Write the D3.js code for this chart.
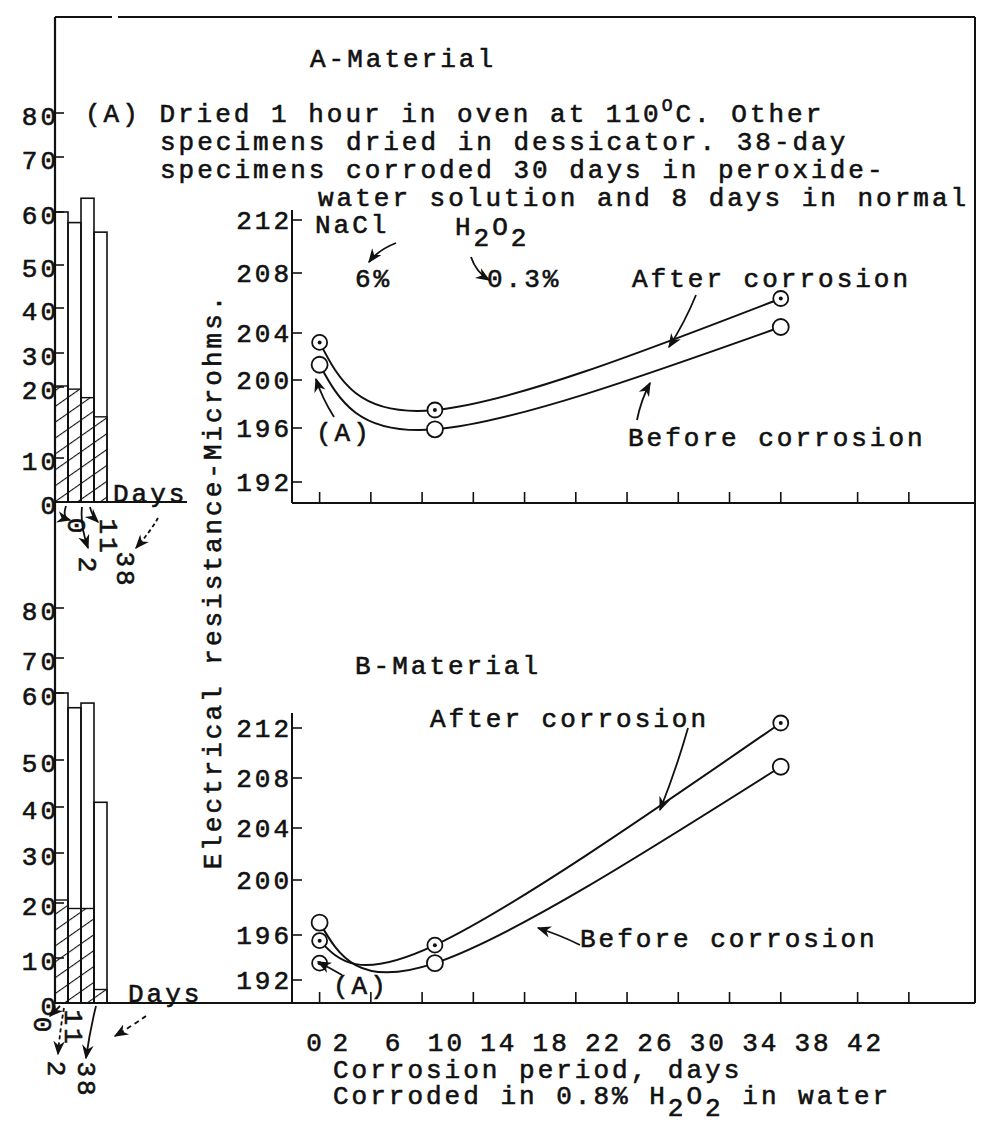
<!DOCTYPE html>
<html><head><meta charset="utf-8">
<script src="https://cdn.jsdelivr.net/npm/d3@7"></script>
<style>
body{margin:0;background:#fff;}
text{font-family:"Liberation Mono","DejaVu Sans Mono",monospace;fill:#111;stroke:#111;stroke-width:0.6px;letter-spacing:3px;}
</style></head><body>
<svg id="chart" width="993" height="1125"></svg>
<script>
// ---- data -------------------------------------------------------------
// specimen groups (days of corrosion) in the side bar charts
const barDays = ["0", "2", "11", "38"];
const barTicks = [0, 10, 20, 30, 40, 50, 60, 70, 80];
const barTotalA = [60, 58, 62.5, 56.2];
const barHatchA = [20.3, 19.7, 18.5, 15.8];
const barTotalB = [60, 57.8, 58.5, 41];
const barHatchB = [20.6, 19, 19, 3];

// electrical resistance (microhms) against corrosion period (days)
const days = [2, 11, 38];
const aAfter = [203.2, 197.5, 206.3];
const aBefore = [201.3, 195.9, 204.4];
const bAfter = [195.5, 195.1, 212.4];
const bBefore = [196.9, 193.5, 208.9];
const bOvenDried = [193.5];
const resTicks = [192, 196, 200, 204, 208, 212];
const dayTicks = [2, 6, 10, 14, 18, 22, 26, 30, 34, 38, 44, 48];
const dayLabels = [0, 2, 6, 10, 14, 18, 22, 26, 30, 34, 38, 42];

const noteLines = [
  "specimens dried in dessicator. 38-day",
  "specimens corroded 30 days in peroxide-",
  "water solution and 8 days in normal"
];

// ---- layout -----------------------------------------------------------
const ink = "#111";
const FS = 26;
const svg = d3.select("#chart");
const defs = svg.append("defs");

defs.append("marker").attr("id", "arr").attr("viewBox", "0 0 10 10")
  .attr("refX", 9).attr("refY", 5).attr("markerWidth", 8).attr("markerHeight", 8)
  .attr("orient", "auto")
  .append("path").attr("d", "M0,1 L10,5 L0,9 L3,5 Z").attr("fill", ink);

const pat = defs.append("pattern").attr("id", "hatch")
  .attr("patternUnits", "userSpaceOnUse").attr("width", 13).attr("height", 13)
  .attr("patternTransform", "rotate(55)");
pat.append("line").attr("x1", 0).attr("y1", 0).attr("x2", 0).attr("y2", 13)
  .attr("stroke", ink).attr("stroke-width", 2.2);

function line(x1, y1, x2, y2, w = 2, dash = null) {
  return svg.append("line").attr("x1", x1).attr("y1", y1).attr("x2", x2).attr("y2", y2)
    .attr("stroke", ink).attr("stroke-width", w).attr("stroke-dasharray", dash);
}
function txt(x, y, s, size = FS, anchor = "start") {
  return svg.append("text").attr("x", x).attr("y", y).attr("dy", "0.35em")
    .attr("font-size", size).attr("text-anchor", anchor).text(s);
}
function arrow(x1, y1, cx, cy, x2, y2, dash = null) {
  svg.append("path").attr("d", `M${x1},${y1} Q${cx},${cy} ${x2},${y2}`)
    .attr("fill", "none").attr("stroke", ink).attr("stroke-width", 1.8)
    .attr("stroke-dasharray", dash).attr("marker-end", "url(#arr)");
}

// outer frame
const L = 55, R = 975, T = 17, MID = 503, BOT = 1003, YAX = 292;
line(L, T, 112, T); line(118, T, R, T);
line(R, T, R, BOT);
line(L, T, L, BOT, 2.2);

// ---- side bar charts (hand-ruled, uneven tick spacing) ----------------
function barChart(yRange, totals, hatch) {
  const y = d3.scaleLinear().domain(barTicks).range(yRange);
  const x = d3.scaleBand().domain(barDays).range([L, L + 52]);
  const g = svg.append("g");
  g.selectAll(".tl").data(barTicks).join("text")
    .attr("x", L + 4).attr("y", d => y(d) + 3).attr("dy", "0.35em")
    .attr("font-size", FS).attr("text-anchor", "end").text(d => d);
  g.selectAll(".tm").data(barTicks).join("line")
    .attr("x1", L).attr("x2", L + 9).attr("y1", d => y(d)).attr("y2", d => y(d))
    .attr("stroke", ink).attr("stroke-width", 1.6);
  g.selectAll(".tb").data(barDays).join("rect")
    .attr("x", d => x(d)).attr("width", x.bandwidth())
    .attr("y", (d, i) => y(totals[i])).attr("height", (d, i) => y(0) - y(totals[i]))
    .attr("fill", "none").attr("stroke", ink).attr("stroke-width", 1.6);
  g.selectAll(".hb").data(barDays).join("rect")
    .attr("x", d => x(d)).attr("width", x.bandwidth())
    .attr("y", (d, i) => y(hatch[i])).attr("height", (d, i) => y(0) - y(hatch[i]))
    .attr("fill", "url(#hatch)").attr("stroke", ink).attr("stroke-width", 1.4);
  return { x, y };
}

barChart([502, 458, 387, 353, 308, 265, 212, 157, 113], barTotalA, barHatchA);
line(L, 502, 187, 502, 2);
txt(113, 493, "Days");
barChart([1003, 958, 903, 853, 807, 760, 693, 658, 608], barTotalB, barHatchB);
txt(128, 993, "Days");

// rotated day labels under the bars
function rotLabel(x, y, s) {
  svg.append("text").attr("transform", `translate(${x},${y}) rotate(90)`)
    .attr("font-size", FS).attr("text-anchor", "middle").attr("dy", "0.35em").text(s);
}
rotLabel(77, 527, barDays[0]);
rotLabel(88, 566, barDays[1]);
rotLabel(109, 537, barDays[2]);
rotLabel(126, 570, barDays[3]);
arrow(66, 506, 62, 518, 70, 520);
arrow(82, 507, 80, 525, 88, 548);
arrow(90, 507, 92, 516, 98, 522);
arrow(158, 518, 150, 532, 136, 548, "4,3");

rotLabel(43, 1026, barDays[0]);
rotLabel(57, 1070, barDays[1]);
rotLabel(74, 1028, barDays[2]);
rotLabel(87, 1080, barDays[3]);
arrow(60, 1006, 56, 1010, 50, 1016);
arrow(64, 1008, 60, 1030, 58, 1054, "4,3");
arrow(96, 1006, 90, 1030, 86, 1058);
arrow(146, 1016, 132, 1026, 115, 1036, "5,4");

// ---- resistance charts -------------------------------------------------
const x = d3.scaleLinear().domain([0, 42]).range([294, 832]);
// typed day numbers sit a little right of the ruled ticks
const xLab = d3.scaleLinear().domain([0, 42]).range([314, 864]);

function resChart(yTop, yBot, yRange, after, before) {
  const y = d3.scaleLinear().domain(resTicks).range(yRange);
  line(YAX, yTop, YAX, yBot, 2);
  line(YAX, yBot, R, yBot, 2.2);
  const g = svg.append("g");
  g.selectAll(".yt").data(resTicks).join("line")
    .attr("x1", YAX).attr("x2", YAX + 10).attr("y1", d => y(d)).attr("y2", d => y(d))
    .attr("stroke", ink).attr("stroke-width", 1.6);
  g.selectAll(".yl").data(resTicks).join("text")
    .attr("x", YAX).attr("y", d => y(d)).attr("dy", "0.35em")
    .attr("font-size", FS).attr("text-anchor", "end").text(d => d);
  g.selectAll(".xt").data(dayTicks).join("line")
    .attr("x1", d => x(d)).attr("x2", d => x(d)).attr("y1", yBot).attr("y2", yBot - 11)
    .attr("stroke", ink).attr("stroke-width", 1.6);

  const curve = d3.line().x(d => x(d[0])).y(d => y(d[1])).curve(d3.curveNatural);
  [after, before].forEach(s => {
    g.append("path").attr("d", curve(days.map((d, i) => [d, s[i]])))
      .attr("fill", "none").attr("stroke", ink).attr("stroke-width", 2);
  });
  // dotted circles: after corrosion; open circles: before
  g.selectAll(".ma").data(days).join("circle")
    .attr("cx", d => x(d)).attr("cy", (d, i) => y(after[i])).attr("r", 7.5)
    .attr("fill", "#fff").attr("stroke", ink).attr("stroke-width", 1.8);
  g.selectAll(".md").data(days).join("circle")
    .attr("cx", d => x(d)).attr("cy", (d, i) => y(after[i])).attr("r", 2)
    .attr("fill", ink);
  g.selectAll(".mb").data(days).join("circle")
    .attr("cx", d => x(d)).attr("cy", (d, i) => y(before[i])).attr("r", 8)
    .attr("fill", "#fff").attr("stroke", ink).attr("stroke-width", 1.8);
  return y;
}

// A-Material
resChart(210, MID, [482, 428, 380, 333, 273, 220], aAfter, aBefore);
// B-Material
const yB = resChart(713, BOT, [980, 935, 880, 828, 778, 728], bAfter, bBefore);
line(L, BOT, YAX, BOT, 2.2);
svg.selectAll(".ov").data(bOvenDried).join("circle")
  .attr("cx", x(days[0])).attr("cy", d => yB(d)).attr("r", 7.5)
  .attr("fill", "#fff").attr("stroke", ink).attr("stroke-width", 1.8);
svg.selectAll(".ovd").data(bOvenDried).join("circle")
  .attr("cx", x(days[0])).attr("cy", d => yB(d)).attr("r", 2).attr("fill", ink);

// day numbers
svg.selectAll(".xl").data(dayLabels).join("text")
  .attr("x", d => xLab(d) + 1.5).attr("y", 1042).attr("dy", "0.35em")
  .attr("font-size", FS).attr("text-anchor", "middle").text(d => d);

// ---- text --------------------------------------------------------------
txt(310, 58, "A-Material");
const t1 = svg.append("text").attr("x", 85).attr("y", 113).attr("dy", "0.35em").attr("font-size", FS);
t1.append("tspan").text("(A) Dried 1 hour in oven at 110");
t1.append("tspan").attr("font-size", 18).attr("dy", "-0.6em").text("O");
t1.append("tspan").attr("dy", "0.42em").text("C. Other");
txt(160, 141, noteLines[0]);
txt(160, 169, noteLines[1]);
txt(318, 197, noteLines[2]);

txt(315, 224, "NaCl");
const h1 = svg.append("text").attr("x", 455).attr("y", 226).attr("dy", "0.35em").attr("font-size", FS);
h1.append("tspan").text("H");
h1.append("tspan").attr("dy", "0.4em").text("2");
h1.append("tspan").attr("dy", "-0.4em").text("O");
h1.append("tspan").attr("dy", "0.4em").text("2");
txt(355, 278, "6%");
txt(487, 278, "0.3%");
arrow(396, 243, 378, 250, 369, 262);
arrow(471, 257, 476, 272, 489, 280);
txt(632, 278, "After corrosion");
arrow(696, 295, 685, 322, 669, 347);
txt(628, 437, "Before corrosion");
arrow(637, 420, 641, 400, 650, 383);
txt(316, 432, "(A)");
arrow(334, 417, 322, 398, 316, 379);

txt(355, 665, "B-Material");
txt(430, 718, "After corrosion");
arrow(688, 728, 676, 770, 660, 810);
txt(580, 938, "Before corrosion");
arrow(580, 945, 560, 935, 538, 928);
txt(333, 985, "(A)");
arrow(342, 975, 330, 968, 318, 962);

svg.append("text").attr("transform", "translate(212,581) rotate(-90)")
  .attr("font-size", FS).attr("text-anchor", "middle").attr("dy", "0.35em")
  .text("Electrical resistance-Microhms.");

txt(333, 1069, "Corrosion period, days");
const c1 = svg.append("text").attr("x", 333).attr("y", 1095).attr("dy", "0.35em").attr("font-size", FS);
c1.append("tspan").text("Corroded in 0.8% H");
c1.append("tspan").attr("dy", "0.45em").text("2");
c1.append("tspan").attr("dy", "-0.45em").text("O");
c1.append("tspan").attr("dy", "0.45em").text("2");
c1.append("tspan").attr("dy", "-0.45em").text(" in water");
</script>
</body></html>
